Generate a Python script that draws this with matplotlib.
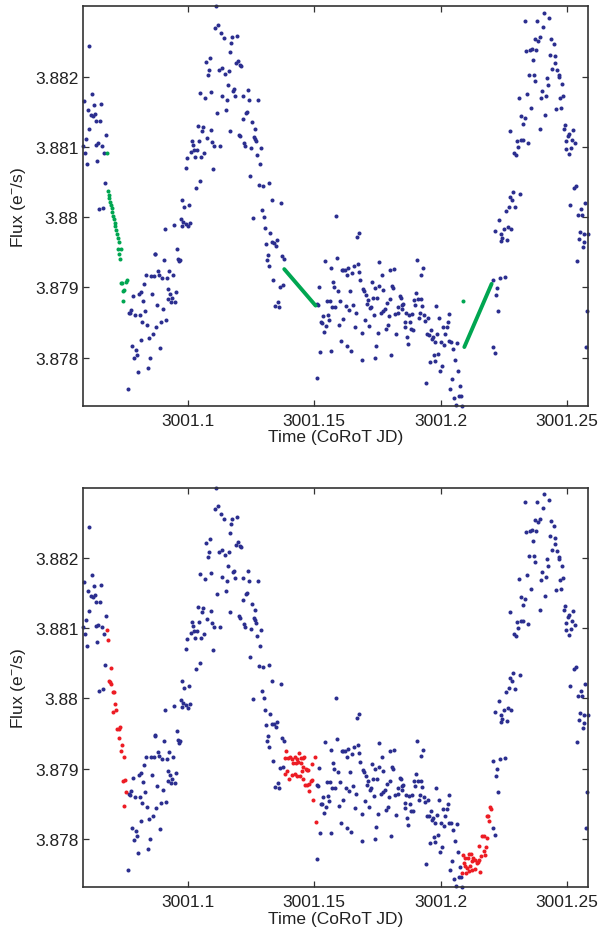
import numpy as np
import matplotlib
matplotlib.use("Agg")
import matplotlib.pyplot as plt
from matplotlib.ticker import FixedLocator, FuncFormatter

# CoRoT light curve, blue points (identical in both panels)
BLUE_TIME = [
    3001.0611, 3001.0589, 3001.0621, 3001.0606, 3001.0629, 3001.0657, 3001.0617, 3001.0625,
    3001.0634, 3001.0636, 3001.0653, 3001.0609, 3001.0599, 3001.0676, 3001.0586, 3001.0594,
    3001.0639, 3001.0647, 3001.0661, 3001.0668, 3001.0601, 3001.0643, 3001.0672, 3001.0649,
    3001.0665,
    3001.0764, 3001.0771, 3001.0767, 3001.0776, 3001.0783, 3001.0780, 3001.0787, 3001.0795,
    3001.0799, 3001.0803, 3001.0791, 3001.0806, 3001.0812, 3001.0817, 3001.0814, 3001.0821,
    3001.0825, 3001.0829, 3001.0830, 3001.0835, 3001.0839, 3001.0843, 3001.0847, 3001.0851,
    3001.0854, 3001.0858, 3001.0862, 3001.0866, 3001.0870, 3001.0872, 3001.0876, 3001.0880,
    3001.0884, 3001.0888, 3001.0891, 3001.0896, 3001.0900, 3001.0903, 3001.0905, 3001.0909,
    3001.0913, 3001.0917, 3001.0921, 3001.0924, 3001.0927, 3001.0930, 3001.0934, 3001.0938,
    3001.0942, 3001.0946, 3001.0951, 3001.0954, 3001.0958, 3001.0961, 3001.0965, 3001.0969,
    3001.0973, 3001.0977, 3001.0980, 3001.0979, 3001.0984, 3001.0992, 3001.1000, 3001.1005,
    3001.1008, 3001.1032, 3001.1048,
    3001.0993, 3001.0999, 3001.1013, 3001.1028, 3001.1025, 3001.1036, 3001.1020, 3001.1016,
    3001.1044, 3001.1054, 3001.1065, 3001.1040, 3001.1062, 3001.1057, 3001.1077, 3001.1091,
    3001.1097, 3001.1105, 3001.1128, 3001.1101, 3001.1117, 3001.1150, 3001.1169, 3001.1202,
    3001.1207, 3001.1220, 3001.1235, 3001.1231, 3001.1253, 3001.1265, 3001.1261, 3001.1268,
    3001.1271, 3001.1224, 3001.1228, 3001.1249, 3001.1290, 3001.1275, 3001.1286, 3001.1245,
    3001.1283, 3001.1298, 3001.1320, 3001.1335, 3001.1368, 3001.1295, 3001.1258, 3001.1302,
    3001.1306, 3001.1327, 3001.1332, 3001.1343, 3001.1354, 3001.1311, 3001.1351, 3001.1317,
    3001.1372, 3001.1380, 3001.1314, 3001.1323, 3001.1339, 3001.1347, 3001.1357, 3001.1361,
    3001.1365, 3001.1376,
    3001.1113, 3001.1109, 3001.1120, 3001.1131, 3001.1144, 3001.1177, 3001.1194, 3001.1173,
    3001.1166, 3001.1073, 3001.1087, 3001.1198, 3001.1192, 3001.1208, 3001.1212, 3001.1084,
    3001.1124, 3001.1135, 3001.1162, 3001.1146, 3001.1080, 3001.1158, 3001.1050, 3001.1094,
    3001.1069, 3001.1137, 3001.1181, 3001.1184, 3001.1154, 3001.1188, 3001.1218, 3001.1239,
    3001.1243, 3001.1279,
    3001.1676, 3001.1670, 3001.1587, 3001.1592, 3001.1543, 3001.1758, 3001.1672, 3001.1658,
    3001.1568, 3001.1609, 3001.1615, 3001.1621, 3001.1635, 3001.1679, 3001.1650, 3001.1629,
    3001.1683, 3001.1728, 3001.1757, 3001.1576, 3001.1521, 3001.1580, 3001.1695, 3001.1698,
    3001.1742, 3001.1595, 3001.1642, 3001.1705, 3001.1732, 3001.1750, 3001.1713, 3001.1601,
    3001.1551, 3001.1562, 3001.1654, 3001.1709, 3001.1725, 3001.1721, 3001.1515, 3001.1510,
    3001.1572, 3001.1583, 3001.1625, 3001.1638, 3001.1666, 3001.1736, 3001.1554, 3001.1535,
    3001.1613, 3001.1558, 3001.1702, 3001.1528, 3001.1532, 3001.1598, 3001.1547, 3001.1662,
    3001.1717, 3001.1539, 3001.1688, 3001.1754, 3001.1605, 3001.1746, 3001.1631, 3001.1647,
    3001.1523, 3001.1566, 3001.1740, 3001.1691, 3001.1513,
    3001.1906, 3001.1932, 3001.1801, 3001.1816, 3001.1921, 3001.1768, 3001.1809, 3001.1813,
    3001.1772, 3001.1903, 3001.1841, 3001.1844, 3001.1799, 3001.1894, 3001.1911, 3001.1924,
    3001.1853, 3001.1849, 3001.1787, 3001.1899, 3001.1928, 3001.1832, 3001.1779, 3001.1774,
    3001.1846, 3001.1983, 3001.1863, 3001.1876, 3001.1887, 3001.1821, 3001.1833, 3001.1765,
    3001.1918, 3001.1936, 3001.1795, 3001.1914, 3001.1950, 3001.1994, 3001.2035, 3001.1939,
    3001.1861, 3001.1880, 3001.2028, 3001.1792, 3001.1858, 3001.2008, 3001.2024, 3001.1884,
    3001.1890, 3001.1783, 3001.1961, 3001.1824, 3001.1946, 3001.1956, 3001.1969, 3001.2019,
    3001.1987, 3001.1869, 3001.1965, 3001.1979, 3001.2002, 3001.2032, 3001.2042, 3001.2064,
    3001.2014, 3001.2050, 3001.1872, 3001.1991, 3001.1973, 3001.1805, 3001.2058, 3001.1958,
    3001.1977, 3001.2006, 3001.1998, 3001.2069, 3001.2046, 3001.1942, 3001.2077, 3001.2039,
    3001.2054, 3001.2072, 3001.2080, 3001.2061, 3001.2085,
    3001.2206, 3001.2216, 3001.2228, 3001.2220, 3001.2224, 3001.2209, 3001.2235, 3001.2254,
    3001.2214, 3001.2238, 3001.2244, 3001.2263, 3001.2241, 3001.2250, 3001.2265, 3001.2280,
    3001.2231, 3001.2258, 3001.2269, 3001.2294, 3001.2282, 3001.2273, 3001.2288, 3001.2313,
    3001.2409, 3001.2429, 3001.2335, 3001.2382, 3001.2405, 3001.2372, 3001.2392, 3001.2386,
    3001.2435, 3001.2447, 3001.2339, 3001.2354, 3001.2362, 3001.2379, 3001.2365, 3001.2433,
    3001.2451, 3001.2454, 3001.2439, 3001.2460, 3001.2350, 3001.2369, 3001.2420, 3001.2467,
    3001.2469, 3001.2375, 3001.2424, 3001.2480, 3001.2342, 3001.2402, 3001.2309, 3001.2398,
    3001.2416, 3001.2472, 3001.2484, 3001.2358, 3001.2458, 3001.2476, 3001.2413, 3001.2319,
    3001.2333, 3001.2327, 3001.2276, 3001.2394, 3001.2491, 3001.2487, 3001.2524, 3001.2507,
    3001.2503, 3001.2302, 3001.2317, 3001.2325, 3001.2346, 3001.2495, 3001.2520, 3001.2532,
    3001.2305, 3001.2497, 3001.2517, 3001.2289, 3001.2298, 3001.2509,
    3001.2529, 3001.2536, 3001.2513, 3001.2554, 3001.2572, 3001.2543, 3001.2558, 3001.2550,
    3001.2566, 3001.2583, 3001.2547, 3001.2568, 3001.2562, 3001.2540, 3001.2579, 3001.2576,
]
BLUE_FLUX = [
    3.88244, 3.88166, 3.88176, 3.88153, 3.88160, 3.88161, 3.88146, 3.88144,
    3.88147, 3.88137, 3.88137, 3.88125, 3.88112, 3.88117, 3.88102, 3.88092,
    3.88103, 3.88105, 3.88102, 3.88092, 3.88075, 3.88080, 3.88048, 3.88011,
    3.88013,
    3.87755, 3.87863, 3.87864, 3.87868, 3.87887, 3.87816, 3.87799, 3.87811,
    3.87804, 3.87780, 3.87860, 3.87891, 3.87860, 3.87894, 3.87825, 3.87851,
    3.87881, 3.87905, 3.87866, 3.87917, 3.87846, 3.87785, 3.87828, 3.87800,
    3.87916, 3.87891, 3.87833, 3.87916, 3.87948, 3.87947, 3.87844, 3.87875,
    3.87923, 3.87918, 3.87814, 3.87851, 3.87913, 3.87869, 3.87939, 3.87983,
    3.87853, 3.87914, 3.87883, 3.87897, 3.87923, 3.87891, 3.87879, 3.87885,
    3.87917, 3.87989, 3.87879, 3.87894, 3.87954, 3.87941, 3.87937, 3.87939,
    3.87998, 3.87988, 3.87993, 3.88025, 3.88015, 3.87990, 3.87987, 3.88017,
    3.87992, 3.88042, 3.88051,
    3.88070, 3.88084, 3.88093, 3.88086, 3.88096, 3.88096, 3.88103, 3.88109,
    3.88109, 3.88086, 3.88092, 3.88130, 3.88129, 3.88123, 3.88113, 3.88124,
    3.88107, 3.88102, 3.88101, 3.88069, 3.88148, 3.88153, 3.88123, 3.88117,
    3.88115, 3.88140, 3.88150, 3.88148, 3.88135, 3.88126, 3.88114, 3.88112,
    3.88108, 3.88106, 3.88101, 3.88099, 3.88098, 3.88089, 3.88075, 3.88059,
    3.88046, 3.88045, 3.88048, 3.88025, 3.88020, 3.88010, 3.87999, 3.88000,
    3.87984, 3.87978, 3.87964, 3.87963, 3.87967, 3.87962, 3.87959, 3.87946,
    3.87944, 3.87940, 3.87939, 3.87931, 3.87911, 3.87874, 3.87879, 3.87872,
    3.87901, 3.87903,
    3.88300, 3.88270, 3.88274, 3.88262, 3.88255, 3.88256, 3.88258, 3.88248,
    3.88235, 3.88221, 3.88227, 3.88223, 3.88219, 3.88217, 3.88215, 3.88209,
    3.88209, 3.88212, 3.88208, 3.88204, 3.88202, 3.88188, 3.88177, 3.88178,
    3.88170, 3.88173, 3.88180, 3.88182, 3.88167, 3.88172, 3.88172, 3.88181,
    3.88167, 3.88167,
    3.87978, 3.87972, 3.88001, 3.87942, 3.87938, 3.87936, 3.87933, 3.87931,
    3.87927, 3.87925, 3.87925, 3.87925, 3.87928, 3.87922, 3.87921, 3.87917,
    3.87910, 3.87907, 3.87902, 3.87908, 3.87901, 3.87900, 3.87898, 3.87895,
    3.87899, 3.87895, 3.87895, 3.87889, 3.87885, 3.87885, 3.87882, 3.87881,
    3.87881, 3.87881, 3.87875, 3.87877, 3.87872, 3.87870, 3.87875, 3.87876,
    3.87872, 3.87872, 3.87873, 3.87868, 3.87864, 3.87861, 3.87861, 3.87859,
    3.87855, 3.87854, 3.87854, 3.87850, 3.87849, 3.87847, 3.87845, 3.87844,
    3.87845, 3.87837, 3.87835, 3.87835, 3.87823, 3.87817, 3.87816, 3.87810,
    3.87808, 3.87809, 3.87800, 3.87797, 3.87771,
    3.87939, 3.87927, 3.87925, 3.87926, 3.87918, 3.87917, 3.87902, 3.87899,
    3.87896, 3.87892, 3.87887, 3.87885, 3.87883, 3.87882, 3.87883, 3.87883,
    3.87877, 3.87875, 3.87878, 3.87875, 3.87874, 3.87872, 3.87869, 3.87867,
    3.87869, 3.87873, 3.87863, 3.87861, 3.87862, 3.87862, 3.87864, 3.87864,
    3.87863, 3.87860, 3.87859, 3.87856, 3.87856, 3.87856, 3.87862, 3.87852,
    3.87851, 3.87850, 3.87850, 3.87846, 3.87844, 3.87843, 3.87843, 3.87840,
    3.87839, 3.87841, 3.87839, 3.87834, 3.87833, 3.87832, 3.87830, 3.87833,
    3.87834, 3.87830, 3.87827, 3.87822, 3.87822, 3.87823, 3.87822, 3.87821,
    3.87818, 3.87812, 3.87819, 3.87805, 3.87803, 3.87804, 3.87797, 3.87794,
    3.87795, 3.87788, 3.87781, 3.87781, 3.87769, 3.87764, 3.87760, 3.87755,
    3.87743, 3.87745, 3.87745, 3.87733, 3.87731,
    3.87815, 3.87806, 3.87866, 3.87889, 3.87899, 3.87911, 3.87913, 3.87915,
    3.87980, 3.87966, 3.87970, 3.87968, 3.87976, 3.87983, 3.87986, 3.87983,
    3.87996, 3.88009, 3.88015, 3.88014, 3.88025, 3.88029, 3.88036, 3.88033,
    3.88291, 3.88283, 3.88279, 3.88279, 3.88271, 3.88254, 3.88256, 3.88251,
    3.88253, 3.88246, 3.88237, 3.88238, 3.88240, 3.88238, 3.88224, 3.88231,
    3.88229, 3.88220, 3.88211, 3.88210, 3.88203, 3.88203, 3.88198, 3.88199,
    3.88202, 3.88194, 3.88188, 3.88189, 3.88176, 3.88180, 3.88170, 3.88169,
    3.88173, 3.88169, 3.88172, 3.88156, 3.88154, 3.88156, 3.88146, 3.88144,
    3.88141, 3.88133, 3.88123, 3.88126, 3.88131, 3.88126, 3.88124, 3.88119,
    3.88116, 3.88109, 3.88110, 3.88110, 3.88106, 3.88108, 3.88110, 3.88105,
    3.88100, 3.88097, 3.88099, 3.88091, 3.88089, 3.88090,
    3.88042, 3.88045, 3.88017, 3.88011, 3.88020, 3.88003, 3.88003, 3.87979,
    3.87976, 3.87976, 3.87969, 3.87965, 3.87958, 3.87938, 3.87866, 3.87815,
]

# top panel: green gap filling (sparse dots in the first gap, dense runs later)
GREEN_DOT_TIME = [
    3001.0680, 3001.0684, 3001.0688, 3001.0690, 3001.0694, 3001.0697, 3001.0700, 3001.0702,
    3001.0706, 3001.0709, 3001.0712, 3001.0714, 3001.0718, 3001.0721, 3001.0725, 3001.0727,
    3001.0723, 3001.0735, 3001.0729, 3001.0731,
    3001.0738, 3001.0742, 3001.0748, 3001.0743, 3001.0755, 3001.0759, 3001.0746,
    3001.2087,
]
GREEN_DOT_FLUX = [
    3.88092, 3.88037, 3.88032, 3.88027, 3.88022, 3.88017, 3.88013, 3.88007,
    3.88002, 3.87998, 3.87992, 3.87987, 3.87981, 3.87976, 3.87970, 3.87964,
    3.87955, 3.87954, 3.87948, 3.87941,
    3.87906, 3.87906, 3.87896, 3.87895, 3.87908, 3.87910, 3.87881,
    3.87880,
]
GREEN_RUN_TIME = [[3001.1382, 3001.1506], [3001.2094, 3001.2202]]
GREEN_RUN_FLUX = [[3.87926, 3.87874], [3.87815, 3.87905]]

# bottom panel: red model points in the same gaps
RED_TIME = [
    3001.0680, 3001.0684, 3001.0698, 3001.0688, 3001.0692, 3001.0696, 3001.0704, 3001.0710,
    3001.0713, 3001.0705, 3001.0717, 3001.0722, 3001.0727, 3001.0732, 3001.0729, 3001.0739,
    3001.0735, 3001.0747, 3001.0743, 3001.0753, 3001.0757, 3001.0749,
    3001.1389, 3001.1385, 3001.1398, 3001.1406, 3001.1414, 3001.1424, 3001.1434, 3001.1441,
    3001.1447, 3001.1455, 3001.1461, 3001.1418, 3001.1428, 3001.1437, 3001.1449, 3001.1492,
    3001.1505, 3001.1456, 3001.1471, 3001.1476, 3001.1452, 3001.1468, 3001.1394, 3001.1386,
    3001.1424, 3001.1411, 3001.1431, 3001.1444, 3001.1402, 3001.1457, 3001.1487, 3001.1493,
    3001.1481, 3001.1465, 3001.1473, 3001.1480, 3001.1497, 3001.1506,
    3001.2088, 3001.2098, 3001.2107, 3001.2114, 3001.2120, 3001.2129, 3001.2136, 3001.2143,
    3001.2148, 3001.2153, 3001.2161, 3001.2173, 3001.2177, 3001.2151, 3001.2178, 3001.2163,
    3001.2171, 3001.2182, 3001.2184, 3001.2189, 3001.2192, 3001.2194, 3001.2201, 3001.2124,
    3001.2116, 3001.2106, 3001.2095, 3001.2086, 3001.2099, 3001.2111, 3001.2126, 3001.2137,
    3001.2155, 3001.2094,
]
RED_FLUX = [
    3.88097, 3.88083, 3.88043, 3.88025, 3.88023, 3.88021, 3.88009, 3.88009,
    3.87992, 3.87981, 3.87983, 3.87956, 3.87956, 3.87959, 3.87943, 3.87934,
    3.87925, 3.87916, 3.87882, 3.87884, 3.87866, 3.87847,
    3.87925, 3.87915, 3.87915, 3.87916, 3.87914, 3.87916, 3.87914, 3.87922,
    3.87915, 3.87915, 3.87916, 3.87908, 3.87908, 3.87910, 3.87908, 3.87907,
    3.87916, 3.87903, 3.87898, 3.87898, 3.87897, 3.87899, 3.87896, 3.87893,
    3.87892, 3.87891, 3.87890, 3.87889, 3.87885, 3.87885, 3.87882, 3.87884,
    3.87878, 3.87876, 3.87876, 3.87868, 3.87855, 3.87824,
    3.87777, 3.87773, 3.87772, 3.87779, 3.87778, 3.87772, 3.87770, 3.87766,
    3.87767, 3.87770, 3.87776, 3.87783, 3.87777, 3.87790, 3.87788, 3.87804,
    3.87804, 3.87801, 3.87832, 3.87833, 3.87826, 3.87846, 3.87843, 3.87768,
    3.87762, 3.87758, 3.87762, 3.87752, 3.87752, 3.87754, 3.87755, 3.87757,
    3.87753, 3.87766,
]

XTICKS = [3001.1, 3001.15, 3001.2, 3001.25]
YTICKS = [3.878, 3.879, 3.88, 3.881, 3.882]
XLIM = (3001.0585, 3001.2583)
YLIM = (3.87731, 3.88300)

NAVY = "#2b2e8f"
GREEN = "#00a651"
RED = "#ed1c24"
AXCOL = "#333333"

plt.rcParams["font.family"] = ["Liberation Sans", "DejaVu Sans"]
plt.rcParams["mathtext.fontset"] = "custom"
plt.rcParams["mathtext.rm"] = "Liberation Sans"
plt.rcParams["mathtext.it"] = "Liberation Sans:italic"
plt.rcParams["mathtext.bf"] = "Liberation Sans:bold"


def style_axes(ax):
    ax.set_xlim(*XLIM)
    ax.set_ylim(*YLIM)
    ax.xaxis.set_major_locator(FixedLocator(XTICKS))
    ax.yaxis.set_major_locator(FixedLocator(YTICKS))
    fmt = FuncFormatter(lambda v, p: f"{v:g}")
    ax.xaxis.set_major_formatter(fmt)
    ax.yaxis.set_major_formatter(fmt)
    ax.tick_params(axis="both", which="major", direction="in", length=4,
                   width=0.9, color=AXCOL, labelsize=12.5, labelcolor="#222222",
                   top=True, right=True)
    ax.tick_params(axis="x", pad=5)
    ax.tick_params(axis="y", pad=3)
    for sp in ax.spines.values():
        sp.set_linewidth(1.2)
        sp.set_color(AXCOL)
    ax.set_xlabel("Time (CoRoT JD)", fontsize=12.5, color="#222222", labelpad=1)
    ax.set_ylabel("Flux (e$^{-}$/s)", fontsize=12.5, color="#222222", labelpad=5)


def blue_points(ax):
    ax.plot(BLUE_TIME, BLUE_FLUX, "o", ms=2.9, mew=0, color=NAVY, clip_on=False)


fig = plt.figure(figsize=(6.02, 9.37), dpi=100)
ax_top = fig.add_axes([0.1374, 0.5656, 0.8393, 0.4264])
ax_bot = fig.add_axes([0.1374, 0.0520, 0.8393, 0.4264])

blue_points(ax_top)
for ts, fs in zip(GREEN_RUN_TIME, GREEN_RUN_FLUX):
    ax_top.plot(ts, fs, "-", lw=2.8, color=GREEN, solid_capstyle="round")
ax_top.plot(GREEN_DOT_TIME, GREEN_DOT_FLUX, "o", ms=2.9, mew=0, color=GREEN)
style_axes(ax_top)

blue_points(ax_bot)
ax_bot.plot(RED_TIME, RED_FLUX, "o", ms=2.9, mew=0, color=RED)
style_axes(ax_bot)

fig.savefig("out.png", dpi=100)
